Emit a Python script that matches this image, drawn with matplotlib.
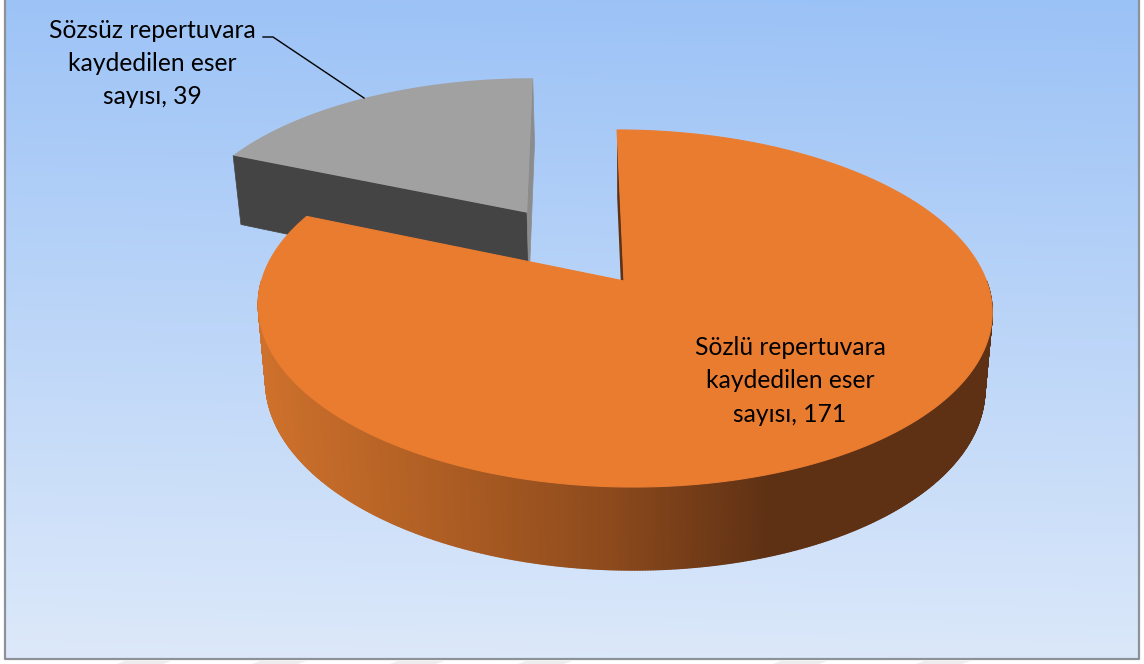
import numpy as np
import matplotlib
matplotlib.use("Agg")
import matplotlib.pyplot as plt
from matplotlib.collections import PolyCollection
from matplotlib.colors import to_rgb

labels = ["Sözlü repertuvara\nkaydedilen eser\nsayısı", "Sözsüz repertuvara\nkaydedilen eser\nsayısı"]
values = [171, 39]
top_colors = ["#EA7C30", "#A1A1A1"]

plt.rcParams["font.family"] = ["Lato", "DejaVu Sans"]

W, H = 1144, 664
CX, CY = 624, 281
RX, RY = 362.5, 174.3
PERSP = 0.154
SHEAR = 0.046
EXPLODE = 0.5


def project(x, y, lower=False):
    # disc coords to screen pixels, y grows toward the viewer
    x = np.asarray(x, dtype=float)
    y = np.asarray(y, dtype=float)
    w = 1 / (1 - PERSP * y)
    sy = RY * y * w
    sx = RX * x * w + SHEAR * sy
    if lower:
        sx = sx * 0.98
        sy = sy + 75.3 + 7.7 * y
    return CX + sx, CY + sy


def sector(start, end, dx=0.0, dy=0.0, lower=False):
    t = np.radians(np.linspace(start, end, 200))
    xs = np.r_[0, np.sin(t)] + dx
    ys = np.r_[0, -np.cos(t)] + dy
    sx, sy = project(xs, ys, lower)
    return np.c_[sx, sy]


def side_color(x):
    stops = [257, 430, 600, 770, 1000]
    cols = np.array([to_rgb(c) for c in ["#CE712C", "#B05F24", "#8F4B1D", "#5E3114", "#5E3114"]])
    return [np.interp(x, stops, cols[:, i]) for i in range(3)]


fig = plt.figure(figsize=(W / 100, H / 100), dpi=100)
ax = fig.add_axes([0, 0, 1, 1])
ax.set_xlim(0, W)
ax.set_ylim(H, 0)
ax.axis("off")

# background, slightly tilted so the top right is the darkest corner
yy, xx = np.mgrid[0:1:300j, 0:1:300j]
grad = np.clip(yy * 0.97 + (1 - xx) * 0.03, 0, 1)[:, :, None]
c0, c1 = np.array(to_rgb("#9BC2F6")), np.array(to_rgb("#DDE9FA"))
ax.imshow(c0 + (c1 - c0) * grad, extent=(5, 1139, 659, 0), aspect="auto", zorder=0)
ax.plot([5, 5, 1139, 1139], [0, 659, 659, 0], color="#8D9198", lw=1.6, zorder=1)

# watermark stripes under the frame
for x0 in [117, 252, 390, 518, 773, 916]:
    ax.fill([x0 + 8, x0 + 54, x0 + 46, x0], [661, 661, 664, 664], color="#EDEDED", lw=0, zorder=1)

angles = np.cumsum([0] + values) / sum(values) * 360

# gray slice, pulled out along its middle angle
mid = np.radians((angles[1] + angles[2]) / 2)
dx, dy = EXPLODE * np.sin(mid), -EXPLODE * np.cos(mid)
a0, a1 = np.radians(angles[1]), np.radians(angles[2])
for ang, col in [(a0, "#444444"), (a1, "#8C8C8C")]:
    ex, ey = np.sin(ang) + dx, -np.cos(ang) + dy
    tx, ty = project([dx, ex], [dy, ey])
    bx, by = project([ex, dx], [ey, dy], lower=True)
    ax.fill(np.r_[tx, bx], np.r_[ty, by], color=col, lw=0.5, zorder=2)
ax.fill(*sector(angles[1], angles[2], dx, dy).T, color=top_colors[1], lw=0, zorder=3)

# orange slice: curved wall (front part only), inner wall, top
t = np.radians(np.linspace(90, 270, 500))
tx, ty = project(np.sin(t), -np.cos(t))
bx, by = project(np.sin(t), -np.cos(t), lower=True)
quads, cols = [], []
for i in range(len(t) - 1):
    quads.append([(tx[i], ty[i]), (tx[i + 1], ty[i + 1]), (bx[i + 1], by[i + 1]), (bx[i], by[i])])
    cols.append(side_color((tx[i] + tx[i + 1]) / 2))
ax.add_collection(PolyCollection(quads, facecolors=cols, edgecolors=cols, linewidths=1.0, zorder=4))
tx, ty = project([0, 0], [0, -1])
bx, by = project([0, 0], [-1, 0], lower=True)
ax.fill(np.r_[tx, bx], np.r_[ty, by], color="#5E3114", lw=0, zorder=4)
ax.fill(*sector(angles[0], angles[1]).T, color=top_colors[0], lw=0.8, zorder=5)

# labels
ax.plot([263, 273, 364], [37, 37, 98], color="black", lw=1, zorder=6)
ax.text(790, 381, f"{labels[0]}, {values[0]}", ha="center", va="center", fontsize=17.7,
        linespacing=1.55, color="black", zorder=7)
ax.text(152, 63.5, f"{labels[1]}, {values[1]}", ha="center", va="center", fontsize=17.7,
        linespacing=1.55, color="black", zorder=7)

fig.savefig("out.png", dpi=100)
